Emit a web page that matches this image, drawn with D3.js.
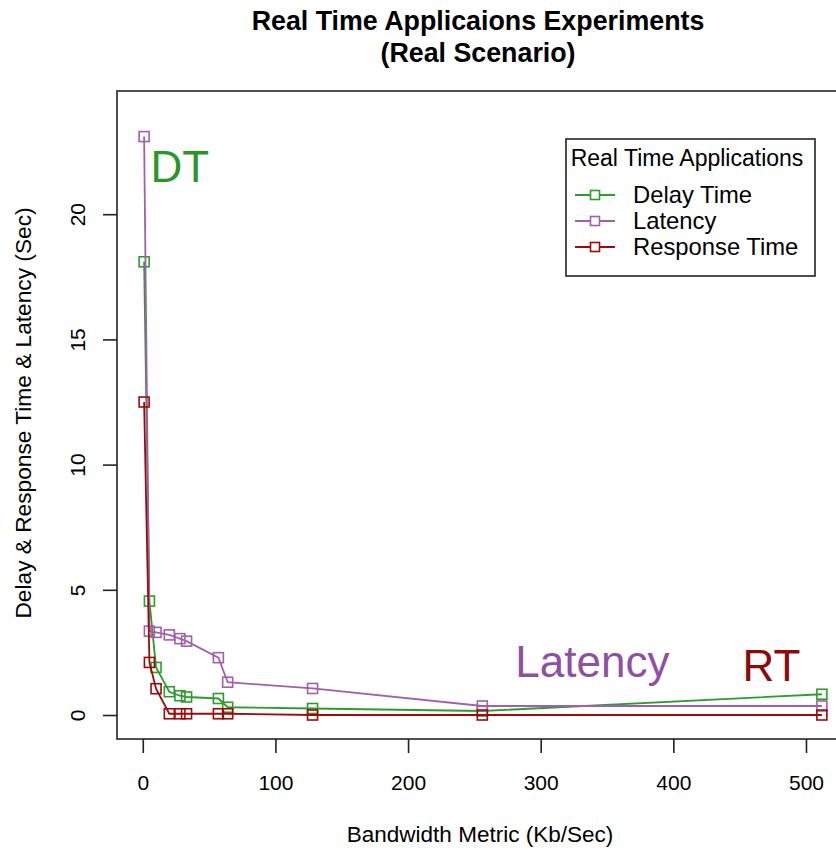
<!DOCTYPE html>
<html>
<head>
<meta charset="utf-8">
<script src="https://cdn.jsdelivr.net/npm/d3@7"></script>
<style>
  body { margin: 0; background: #fff; }
  svg { display: block; }
  text { font-family: "Liberation Sans", Arial, sans-serif; }
</style>
</head>
<body>
<svg id="chart" width="836" height="850"></svg>
<script>
// ---- data ----
const bandwidth = [1, 5, 10, 20, 28, 33, 57, 64, 128, 256, 512];
const delayTime = [18.1, 4.55, 1.9, 0.93, 0.77, 0.72, 0.66, 0.31, 0.26, 0.16, 0.83];
const latency = [23.1, 3.35, 3.3, 3.2, 3.05, 2.95, 2.29, 1.31, 1.06, 0.36, 0.36];
const responseTime = [12.5, 2.1, 1.05, 0.05, 0.05, 0.05, 0.05, 0.05, 0.0, 0.0, 0.0];
const seriesNames = ["Delay Time", "Latency", "Response Time"];
const xTicks = [0, 100, 200, 300, 400, 500];
const yTicks = [0, 5, 10, 15, 20];
const titleLines = ["Real Time Applicaions Experiments", "(Real Scenario)"];
const xLabel = "Bandwidth Metric (Kb/Sec)";
const yLabel = "Delay & Response Time & Latency (Sec)";
const legendTitle = "Real Time Applications";
const plotLabels = [
  { text: "DT", x: 28, y: 21.3, series: 0 },
  { text: "Latency", x: 339, y: 1.5, series: 1 },
  { text: "RT", x: 474, y: 1.35, series: 2 }
];

// ---- styles ----
const colors = ["#2e9b2e", "#a060aa", "#9a0c0c"];
const labelColors = ["#2a962a", "#8e50a0", "#8b0a0a"];

const svg = d3.select("#chart");
const box = { left: 117, right: 849, top: 91, bottom: 739 };

const xMin = d3.min(bandwidth), xMax = d3.max(bandwidth);
const xPad = (xMax - xMin) * 0.04;
const x = d3.scaleLinear().domain([xMin - xPad, xMax + xPad]).range([box.left, box.right]);
const y = d3.scaleLinear().domain([-0.958, 24.92]).range([box.bottom, box.top]);

// title
svg.selectAll("text.title").data(titleLines).enter().append("text")
  .attr("class", "title")
  .attr("x", 478).attr("y", (d, i) => 30 + i * 32)
  .attr("text-anchor", "middle")
  .attr("font-weight", "bold").attr("font-size", 26.8)
  .attr("fill", "#000")
  .text(d => d);

// plot box
svg.append("rect")
  .attr("x", box.left).attr("y", box.top)
  .attr("width", box.right - box.left).attr("height", box.bottom - box.top)
  .attr("fill", "none").attr("stroke", "#222").attr("stroke-width", 1.6);

// x axis
const xAxis = d3.axisBottom(x).tickValues(xTicks).tickSize(14).tickPadding(22).tickFormat(d3.format("d"));
const gx = svg.append("g").attr("transform", `translate(0,${box.bottom})`).call(xAxis);
gx.select(".domain").remove();
gx.selectAll("line").attr("stroke", "#222").attr("stroke-width", 1.6);
gx.selectAll("text").attr("font-size", 21).attr("fill", "#000")
  .attr("font-family", "Liberation Sans, Arial, sans-serif");

// y axis
const yAxis = d3.axisLeft(y).tickValues(yTicks).tickSize(14).tickFormat(d3.format("d"));
const gy = svg.append("g").attr("transform", `translate(${box.left},0)`).call(yAxis);
gy.select(".domain").remove();
gy.selectAll("line").attr("stroke", "#222").attr("stroke-width", 1.6);
gy.selectAll("text")
  .attr("font-size", 21).attr("fill", "#000")
  .attr("font-family", "Liberation Sans, Arial, sans-serif")
  .attr("text-anchor", "middle").attr("dy", null).attr("x", null)
  .attr("transform", "translate(-32,0) rotate(-90)")
  .attr("y", 0);

// axis labels
svg.append("text").attr("x", 480).attr("y", 842)
  .attr("text-anchor", "middle").attr("font-size", 22.5).attr("fill", "#000")
  .text(xLabel);
svg.append("text")
  .attr("transform", `translate(31,${(box.top + box.bottom) / 2 - 2}) rotate(-90)`)
  .attr("text-anchor", "middle").attr("font-size", 22.7).attr("fill", "#000")
  .text(yLabel);

// series
const allSeries = [delayTime, latency, responseTime];
const line = d3.line().x(d => x(d[0])).y(d => y(d[1]));
const msize = 10;
allSeries.forEach((vals, si) => {
  const pts = bandwidth.map((b, i) => [b, vals[i]]);
  const g = svg.append("g");
  g.append("path").datum(pts).attr("d", line)
    .attr("fill", "none").attr("stroke", colors[si]).attr("stroke-width", 1.8);
  g.selectAll("rect").data(pts).enter().append("rect")
    .attr("x", d => x(d[0]) - msize / 2).attr("y", d => y(d[1]) - msize / 2)
    .attr("width", msize).attr("height", msize)
    .attr("fill", "none").attr("stroke", colors[si]).attr("stroke-width", 1.6);
});

// in-plot labels
svg.selectAll("text.plabel").data(plotLabels).enter().append("text")
  .attr("class", "plabel")
  .attr("x", d => x(d.x)).attr("y", d => y(d.y))
  .attr("text-anchor", "middle").attr("font-size", 44)
  .attr("fill", d => labelColors[d.series])
  .text(d => d.text);

// legend
const lg = { x: 566, y: 139, w: 249, h: 137 };
const gl = svg.append("g");
gl.append("rect").attr("x", lg.x).attr("y", lg.y).attr("width", lg.w).attr("height", lg.h)
  .attr("fill", "#fff").attr("stroke", "#222").attr("stroke-width", 1.6);
gl.append("text").attr("x", lg.x + 121).attr("y", lg.y + 27)
  .attr("text-anchor", "middle").attr("font-size", 23).attr("fill", "#000")
  .text(legendTitle);
seriesNames.forEach((name, i) => {
  const cy = lg.y + 56 + i * 26;
  gl.append("line").attr("x1", lg.x + 9).attr("x2", lg.x + 49).attr("y1", cy).attr("y2", cy)
    .attr("stroke", colors[i]).attr("stroke-width", 1.8);
  gl.append("rect").attr("x", lg.x + 29 - 4.5).attr("y", cy - 4.5).attr("width", 9).attr("height", 9)
    .attr("fill", "#fff").attr("stroke", colors[i]).attr("stroke-width", 1.6);
  gl.append("text").attr("x", lg.x + 67).attr("y", cy + 8)
    .attr("font-size", 23.8).attr("fill", "#000")
    .text(name);
});
</script>
</body>
</html>
